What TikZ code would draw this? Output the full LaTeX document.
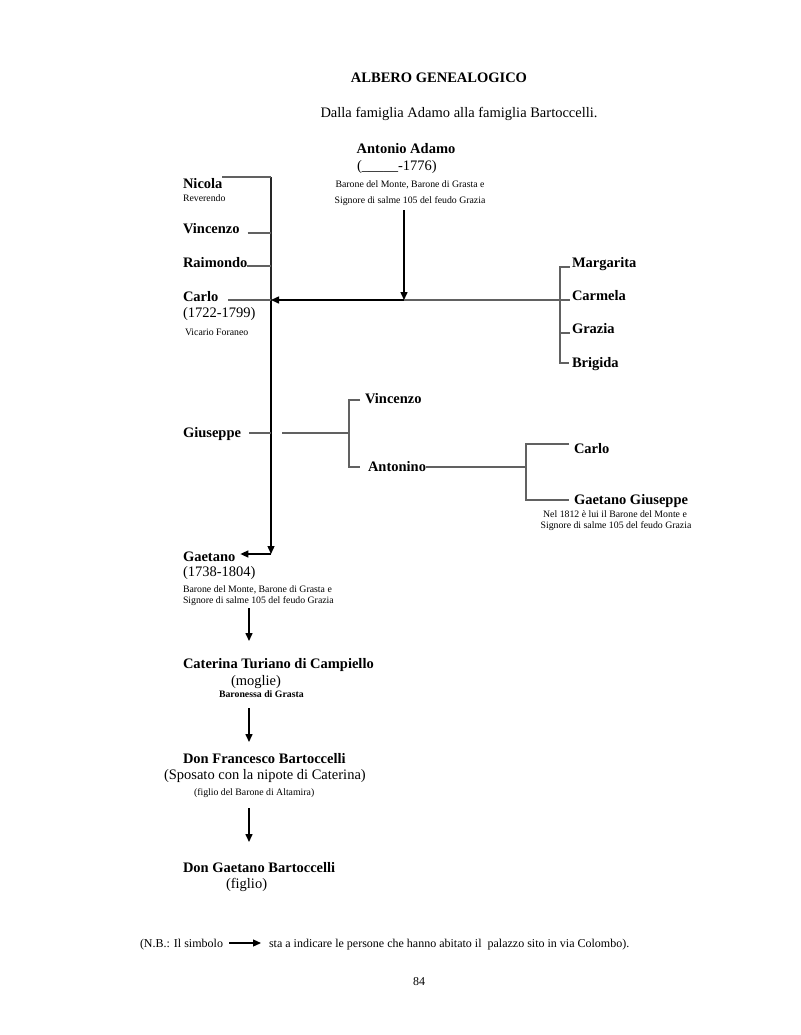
\documentclass[tikz,border=0pt]{standalone}
\usepackage{fontspec}
\setmainfont{Liberation Serif}
\usetikzlibrary{arrows.meta}
\begin{document}
\begin{tikzpicture}[x=1pt,y=-1pt,
  every node/.style={inner sep=0pt,outer sep=0pt},
  pname/.style={font=\fontsize{14.5}{17}\selectfont\bfseries, anchor=base west},
  ptext/.style={font=\fontsize{14.5}{17}\selectfont, anchor=base west},
  pnote/.style={font=\fontsize{9.8}{11}\selectfont, anchor=base west},
  pfoot/.style={font=\fontsize{12}{14}\selectfont, anchor=base west},
  tree/.style={draw=black!62, line width=1.2pt},
  trunk/.style={draw=black!85, line width=1.3pt},
  arr/.style={draw=black, line width=1.5pt, -{Triangle[length=8pt,width=7pt]}},
]
\useasboundingbox[fill=white] (0,0) rectangle (800,1035);

% headings
\node[pname, anchor=base] (title) at (439,83) {ALBERO GENEALOGICO};
\node[ptext, anchor=base] (sub) at (459,118) {Dalla famiglia Adamo alla famiglia Bartoccelli.};

% Antonio Adamo
\node[pname, anchor=base] (antonio) at (406,154) {Antonio Adamo};
\node[ptext] (antd) at (357,171) {(\_\_\_\_\_-1776)};
\node[pnote, anchor=base] (antn1) at (410,188) {Barone del Monte, Barone di Grasta e};
\node[pnote, anchor=base] (antn2) at (410,203) {Signore di salme 105 del feudo Grazia};

% left column of children
\node[pname] (nicola) at (183,189) {Nicola};
\node[pnote] (nicolan) at (183,201) {Reverendo};
\node[pname] (vinc) at (183,233) {Vincenzo};
\node[pname] (raim) at (183,267) {Raimondo};
\node[pname] (carlo) at (183,301) {Carlo};
\node[ptext] (carlod) at (183,317) {(1722-1799)};
\node[pnote] (carlon) at (185,335) {Vicario Foraneo};
\node[pname] (gius) at (183,437) {Giuseppe};
\node[pname] (gaet) at (183,561) {Gaetano};
\node[ptext] (gaetd) at (183,576) {(1738-1804)};
\node[pnote] (gaetn1) at (183,592) {Barone del Monte, Barone di Grasta e};
\node[pnote] (gaetn2) at (183,603) {Signore di salme 105 del feudo Grazia};

% right column (daughters)
\node[pname] (marg) at (572,267) {Margarita};
\node[pname] (carm) at (572,300) {Carmela};
\node[pname] (graz) at (572,333) {Grazia};
\node[pname] (brig) at (572,367) {Brigida};

% Giuseppe's descendants
\node[pname] (vinc2) at (365,403) {Vincenzo};
\node[pname] (anto) at (368,471) {Antonino};
\node[pname] (carlo2) at (574,453) {Carlo};
\node[pname] (gg) at (574,504) {Gaetano Giuseppe};
\node[pnote, anchor=base] (ggn1) at (615,517) {Nel 1812 è lui il Barone del Monte e};
\node[pnote, anchor=base] (ggn2) at (616,528) {Signore di salme 105 del feudo Grazia};

% line of the palazzo
\node[pname] (cat) at (183,668) {Caterina Turiano di Campiello};
\node[ptext] (catm) at (231,685) {(moglie)};
\node[pnote, font=\fontsize{9.8}{11}\selectfont\bfseries] (catn) at (219,697) {Baronessa di Grasta};
\node[pname] (fran) at (183,763) {Don Francesco Bartoccelli};
\node[ptext] (frand) at (164,779) {(Sposato con la nipote di Caterina)};
\node[pnote] (frann) at (194,795) {(figlio del Barone di Altamira)};
\node[pname] (dong) at (183,872) {Don Gaetano Bartoccelli};
\node[ptext] (dongd) at (226,888) {(figlio)};

% footnote and page number
\node[pfoot] (nb1) at (140,947) {(N.B.: Il simbolo};
\node[pfoot] (nb2) at (269,947) {sta a indicare le persone che hanno abitato il\ \ palazzo sito in via Colombo).};
\node[pfoot, anchor=base] (page) at (419,985) {84};

% coordinates
\coordinate (ttop) at (271,177);
\coordinate (tcar) at (271,300);
\coordinate (tbot) at (271,554);
\coordinate (aa) at (404,300);
\coordinate (a0) at (404,210);
\coordinate (rb) at (560,300);
\coordinate (gb) at (349,433);
\coordinate (ab) at (526,467);

% trunk and ticks
\draw[trunk] (ttop) -- (tcar);
\draw[arr, line width=1.3pt] (tcar) -- (tbot);
\draw[arr] (tbot) -- ([xshift=5pt]gaet.east |- tbot);
\draw[tree] (nicola.east |- ttop) -- (ttop);
\draw[tree] ([xshift=8pt]vinc.east |- 0,233) -- (271,233);
\draw[tree] (raim.east |- 0,266) -- (271,266);
\draw[tree] ([xshift=10pt]carlo.east |- tcar) -- (tcar);
\draw[tree] ([xshift=8pt]gius.east |- gb) -- (271,433);

% Antonio's arrows
\draw[arr] (a0) -- (aa);
\draw[arr] (aa) -- (tcar);
\draw[tree] (aa) -- (rb);

% daughters bracket
\draw[tree] ([xshift=-2pt]marg.west |- 0,267) -- (560,267) -- (560,363) -- ([xshift=-3pt]brig.west |- 0,363);
\draw[tree] (560,333) -- ([xshift=-2pt]graz.west |- 0,333);
\draw[tree] (rb) -- ([xshift=-2pt]carm.west |- rb);

% Giuseppe's branch
\draw[tree] (282,433) -- (gb);
\draw[tree] ([xshift=-5pt]vinc2.west |- 0,400) -- (349,400) -- (349,467) -- ([xshift=-8pt]anto.west |- 0,467);
\draw[tree] (anto.east |- ab) -- (ab);
\draw[tree] ([xshift=-5pt]carlo2.west |- 0,444) -- (526,444) -- (526,500) -- ([xshift=-5pt]gg.west |- 0,500);

% descent arrows
\draw[arr] (249,608) -- (249,641);
\draw[arr] (249,708) -- (249,742);
\draw[arr] (249,808) -- (249,842);

% symbol in the footnote
\draw[arr, line width=1.2pt] ([xshift=6pt]nb1.east |- 0,943) -- ([xshift=-8pt]nb2.west |- 0,943);
\end{tikzpicture}
\end{document}
